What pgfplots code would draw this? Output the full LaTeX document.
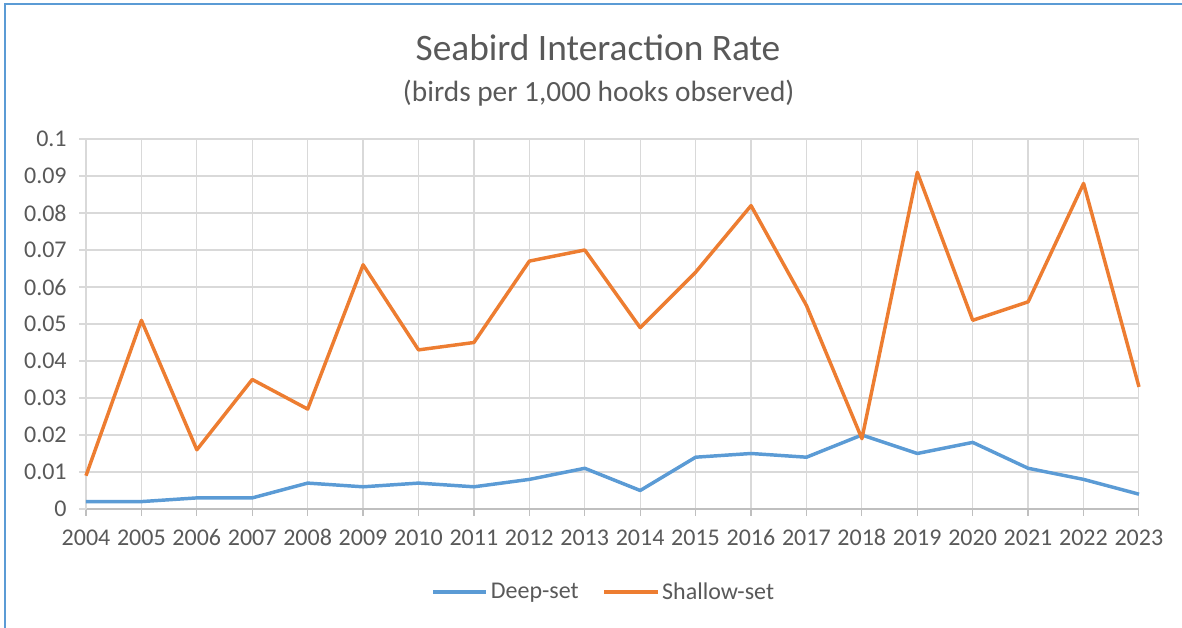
\documentclass[border=0pt]{standalone}
\usepackage{pgfplots}
\pgfplotsset{compat=1.18}
\usepackage{fontspec}
\setmainfont{Carlito}
\definecolor{cblue}{HTML}{5B9BD5}
\definecolor{corange}{HTML}{ED7D31}
\definecolor{cgrid}{HTML}{D9D9D9}
\definecolor{caxis}{HTML}{BFBFBF}
\definecolor{ctext}{HTML}{595959}
\pgfplotstableread{
year deep shallow
2004 0.002 0.009
2005 0.002 0.051
2006 0.003 0.016
2007 0.003 0.035
2008 0.007 0.027
2009 0.006 0.066
2010 0.007 0.043
2011 0.006 0.045
2012 0.008 0.067
2013 0.011 0.070
2014 0.005 0.049
2015 0.014 0.064
2016 0.015 0.082
2017 0.014 0.055
2018 0.020 0.019
2019 0.015 0.091
2020 0.018 0.051
2021 0.011 0.056
2022 0.008 0.088
2023 0.004 0.033
}\datatable
\begin{document}
\begin{tikzpicture}
\path[use as bounding box] (0,0) rectangle (886.5pt,471pt);
\draw[cblue, line width=1.5pt] (3.9pt,0) -- (3.9pt,468pt) -- (886.5pt,468pt);
\node[text=ctext, font=\fontsize{28}{32}\selectfont] at (448.5pt,435.5pt) {Seabird Interaction Rate};
\node[text=ctext, font=\fontsize{22}{26}\selectfont] at (449pt,401pt) {(birds per 1,000 hooks observed)};
\begin{axis}[
  at={(64.5pt,89.25pt)}, anchor=origin,
  scale only axis, width=789.75pt, height=277.5pt,
  xmin=2004, xmax=2023, ymin=0, ymax=0.1,
  xtick={2004,...,2023}, ytick={0,0.01,...,0.1},
  yticklabels={0,0.01,0.02,0.03,0.04,0.05,0.06,0.07,0.08,0.09,0.1},
  xticklabel={\pgfmathprintnumber[fixed,1000 sep={}]{\tick}},
  /pgf/number format/assume math mode=true,
  ticklabel style={text=ctext, font=\fontsize{18}{21}\selectfont},
  grid=major, major grid style={cgrid, line width=0.9pt},
  axis x line*=bottom, axis y line*=left,
  x axis line style={caxis, line width=0.9pt, -},
  y axis line style={cgrid, line width=0.9pt, -},
  xtick style={caxis, line width=0.9pt},
  ytick style={cgrid, line width=0.9pt},
  tick align=outside, major tick length=5pt,
  xticklabel style={yshift=-6pt, text height=12.5pt, text depth=0pt},
  yticklabel style={xshift=-6pt},
  legend columns=2,
  legend style={at={(axis description cs:0.492,-0.224)}, anchor=center, draw=none, fill=none,
    font=\fontsize{18}{21}\selectfont, text=ctext,
    /tikz/every even column/.append style={column sep=16pt}},
  legend image code/.code={\draw[#1, line width=2.6pt] (0pt,0pt) -- (40pt,0pt);},
  clip=false,
]
\addplot[cblue, line width=2.6pt, line join=round] table[x=year, y=deep] {\datatable};
\addlegendentry{Deep-set}
\addplot[corange, line width=2.6pt, line join=round] table[x=year, y=shallow] {\datatable};
\addlegendentry{Shallow-set}
\end{axis}
\end{tikzpicture}
\end{document}
